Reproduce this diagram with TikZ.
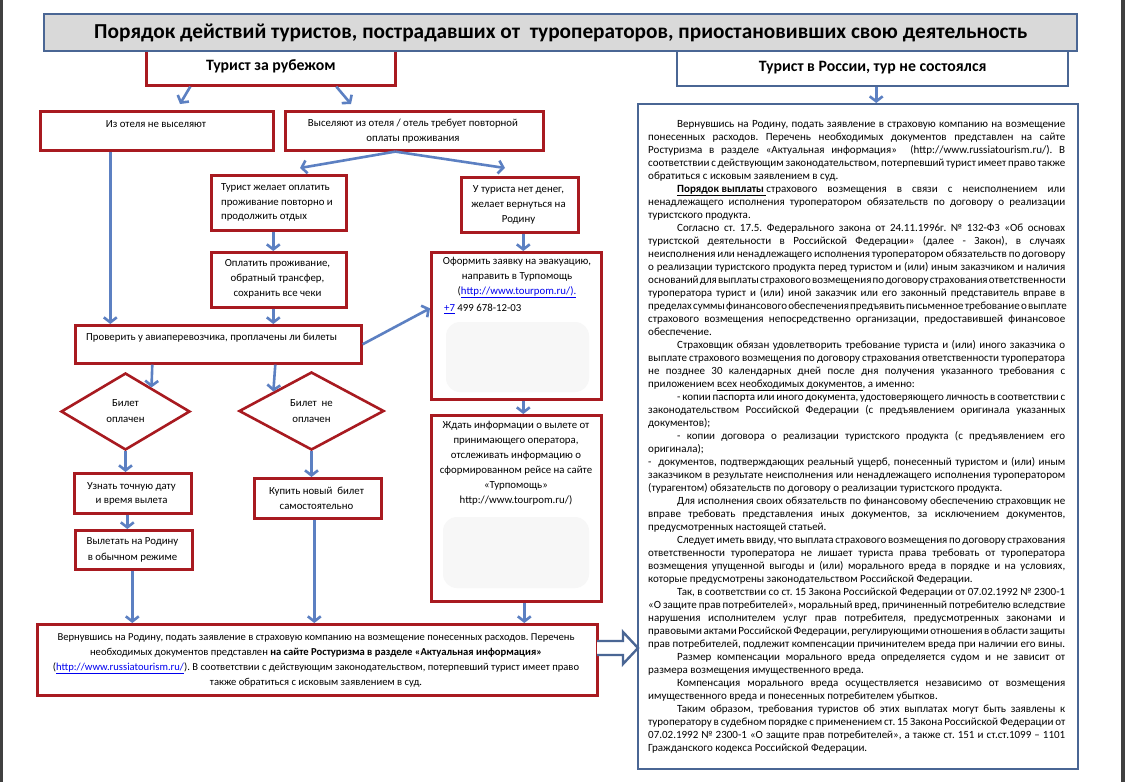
\documentclass[tikz,border=0pt]{standalone}
\usepackage{fontspec}
\setmainfont{Carlito}
\usetikzlibrary{arrows.meta,shapes.geometric,calc}
\definecolor{redc}{RGB}{168,26,32}
\definecolor{bluec}{RGB}{74,102,148}
\definecolor{arrc}{RGB}{92,128,194}
\definecolor{titlec}{RGB}{217,217,217}
\definecolor{linkc}{RGB}{0,0,238}
\definecolor{edgec}{RGB}{64,64,64}
\definecolor{blurc}{RGB}{247,247,247}
\newlength\RW
\setlength\RW{417pt}
\newcommand\JLine[1]{\hbox to \RW{#1}}
\newcommand\JInd[1]{\hbox to \RW{\hskip 29pt #1}}
\newcommand\LLine[1]{\hbox to \RW{#1\hfil}}
\frenchspacing
\begin{document}
\begin{tikzpicture}[x=1pt,y=-1pt,
  box/.style={draw=redc,line width=2.6pt,fill=white,inner sep=0pt,anchor=north west},
  bbox/.style={draw=bluec,line width=2.4pt,fill=white,inner sep=0pt,anchor=north west},
  diam/.style={diamond,aspect=1.67,draw=redc,line width=2.6pt,fill=white,inner sep=0pt,align=center,font=\fontsize{10.8}{16}\selectfont},
  txt/.style={inner sep=0pt,align=center,font=\fontsize{10.8}{15}\selectfont},
  arr/.style={draw=arrc,line width=2.6pt,-{Straight Barb[length=5pt,width=13pt]}},
  head/.style={font=\fontsize{15.8}{18}\selectfont\bfseries}
]
\useasboundingbox (0,0) rectangle (1125,782);
\fill[white] (0,0) rectangle (1125,782);
\fill[edgec] (0,0) rectangle (2.5,782);
\fill[edgec] (1121,0) rectangle (1125,782);

% headers
\node[box,minimum width=249,minimum height=38,head] (tzr) at (145,46) {Турист за рубежом};
\node[bbox,minimum width=391,minimum height=37,head] (trr) at (676,48) {Турист в России, тур не состоялся};
\node[bbox,fill=titlec,minimum width=1033,minimum height=37,font=\fontsize{21.3}{24}\selectfont\bfseries] (title) at (43,13) {Порядок действий туристов, пострадавших от~~туроператоров, приостановивших свою деятельность};

% boxes
\node[box,minimum width=233,minimum height=39] (hotel1) at (39,110) {};
\node[txt] (hotel1t) at (156,124) {Из отеля не выселяют};
\node[box,minimum width=258,minimum height=39] (hotel2) at (284,110) {};
\node[txt,font=\fontsize{10.8}{14.5}\selectfont] (hotel2t) at (413,131) {Выселяют из отеля / отель требует повторной\\оплаты проживания};

\node[box,minimum width=135,minimum height=55] (pay1) at (210,174) {};
\node[txt,align=left,anchor=west,font=\fontsize{10.8}{14.5}\selectfont] (pay1t) at (221,202.5) {Турист желает оплатить\\проживание повторно и\\продолжить отдых};
\node[box,minimum width=135,minimum height=55] (pay2) at (210,251) {};
\node[txt] (pay2t) at (277.5,279) {Оплатить проживание,\\обратный трансфер,\\сохранить все чеки};

\node[box,minimum width=117,minimum height=55] (nomoney) at (460,176) {};
\node[txt] (nomoneyt) at (518.5,205) {У туриста нет денег,\\желает вернуться на\\Родину};

\node[box,minimum width=286,minimum height=38] (check) at (74,324) {};
\node[txt,anchor=west] (checkt) at (86,338) {Проверить у авиаперевозчика, проплачены ли билеты};

\node[box,minimum width=170,minimum height=147] (form) at (430,251) {};
\fill[blurc,rounded corners=14pt] (446,322) rectangle (589,392);
\node[txt,anchor=north] (formt) at (517,257) {Оформить заявку на эвакуацию,\\направить в Турпомощь\\(\textcolor{linkc}{\underline{http://www.tourpom.ru/).}}};
\node[txt,anchor=west] (formp) at (444,309) {\textcolor{linkc}{\underline{+7}} 499 678-12-03};

\node[box,minimum width=170,minimum height=186] (wait) at (430,414) {};
\fill[blurc,rounded corners=14pt] (443,517) rectangle (589,588);
\node[txt,anchor=north] (waitt) at (516,421) {Ждать информации о вылете от\\принимающего оператора,\\отслеживать информацию о\\сформированном рейсе на сайте\\«Турпомощь»\\http://www.tourpom.ru/)};

\node[diam,minimum width=129,minimum height=77] (d1) at (125.5,411.5) {Билет\\оплачен};
\node[diam,minimum width=145,minimum height=78] (d2) at (311.5,411) {Билет~ не\\оплачен};

\node[box,minimum width=117,minimum height=40] (know) at (73,472) {};
\node[txt,font=\fontsize{10.8}{14}\selectfont] (knowt) at (131.5,494) {Узнать точную дату\\и время вылета};
\node[box,minimum width=117,minimum height=39] (fly) at (74,529) {};
\node[txt,font=\fontsize{10.8}{16}\selectfont] (flyt) at (132.5,550) {Вылетать на Родину\\в обычном режиме};
\node[box,minimum width=127,minimum height=40] (buy) at (253,477) {};
\node[txt] (buyt) at (316.5,498.5) {Купить новый~ билет\\самостоятельно};

\node[box,minimum width=560,minimum height=71] (final) at (36,623) {};
\node[txt,font=\fontsize{10.6}{15}\selectfont] (finalt) at (316,660) {Вернувшись на Родину, подать заявление в страховую компанию на возмещение понесенных расходов. Перечень\\необходимых документов представлен \textbf{на сайте Ростуризма в разделе «Актуальная информация»}\\(\textcolor{linkc}{\underline{http://www.russiatourism.ru/}}). В соответствии с действующим законодательством, потерпевший турист имеет право\\также обратиться с исковым заявлением в суд.};

% right text box
\node[bbox,minimum width=440,minimum height=665] (rbox) at (637,103) {};
\node[anchor=base west,inner sep=0pt] (rtext) at (648,127) {\vtop{\fontsize{11}{13}\selectfont\frenchspacing
\fontdimen4\font=0.5\fontdimen2\font
\JInd{Вернувшись на Родину, подать заявление в страховую компанию на возмещение}
\JLine{понесенных расходов. Перечень необходимых документов представлен на сайте}
\JLine{Ростуризма в разделе «Актуальная информация» ~(http://www.russiatourism.ru/). В}
\JLine{соответствии с действующим законодательством, потерпевший турист имеет право также}
\LLine{обратиться с исковым заявлением в суд.}
\JInd{\underline{\textbf{Порядок выплаты}\ }страхового возмещения в связи с неисполнением или}
\JLine{ненадлежащего исполнения туроператором обязательств по договору о реализации}
\LLine{туристского продукта.}
\JInd{Согласно ст. 17.5. Федерального закона от 24.11.1996г. № 132-ФЗ «Об основах}
\JLine{туристской деятельности в Российской Федерации» (далее - Закон), в случаях}
\JLine{неисполнения или ненадлежащего исполнения туроператором обязательств по договору}
\JLine{о реализации туристского продукта перед туристом и (или) иным заказчиком и наличия}
\JLine{оснований для выплаты страхового возмещения по договору страхования ответственности}
\JLine{туроператора турист и (или) иной заказчик или его законный представитель вправе в}
\JLine{пределах суммы финансового обеспечения предъявить письменное требование о выплате}
\JLine{страхового возмещения непосредственно организации, предоставившей финансовое}
\LLine{обеспечение.}
\JInd{Страховщик обязан удовлетворить требование туриста и (или) иного заказчика о}
\JLine{выплате страхового возмещения по договору страхования ответственности туроператора}
\JLine{не позднее 30 календарных дней после дня получения указанного требования с}
\LLine{приложением \underline{всех необходимых документов}, а именно:}
\JInd{- копии паспорта или иного документа, удостоверяющего личность в соответствии с}
\JLine{законодательством Российской Федерации (с предъявлением оригинала указанных}
\LLine{документов);}
\JInd{- копии договора о реализации туристского продукта (с предъявлением его}
\LLine{оригинала);}
\JLine{-~ документов, подтверждающих реальный ущерб, понесенный туристом и (или) иным}
\JLine{заказчиком в результате неисполнения или ненадлежащего исполнения туроператором}
\LLine{(турагентом) обязательств по договору о реализации туристского продукта.}
\JInd{Для исполнения своих обязательств по финансовому обеспечению страховщик не}
\JLine{вправе требовать представления иных документов, за исключением документов,}
\LLine{предусмотренных настоящей статьей.}
\JInd{Следует иметь ввиду, что выплата страхового возмещения по договору страхования}
\JLine{ответственности туроператора не лишает туриста права требовать от туроператора}
\JLine{возмещения упущенной выгоды и (или) морального вреда в порядке и на условиях,}
\LLine{которые предусмотрены законодательством Российской Федерации.}
\JInd{Так, в соответствии со ст. 15 Закона Российской Федерации от 07.02.1992 № 2300-1}
\JLine{«О защите прав потребителей», моральный вред, причиненный потребителю вследствие}
\JLine{нарушения исполнителем услуг прав потребителя, предусмотренных законами и}
\JLine{правовыми актами Российской Федерации, регулирующими отношения в области защиты}
\LLine{прав потребителей, подлежит компенсации причинителем вреда при наличии его вины.}
\JInd{Размер компенсации морального вреда определяется судом и не зависит от}
\LLine{размера возмещения имущественного вреда.}
\JInd{Компенсация морального вреда осуществляется независимо от возмещения}
\LLine{имущественного вреда и понесенных потребителем убытков.}
\JInd{Таким образом, требования туристов об этих выплатах могут быть заявлены к}
\JLine{туроператору в судебном порядке с применением ст. 15 Закона Российской Федерации от}
\JLine{07.02.1992 № 2300-1 «О защите прав потребителей», а также ст. 151 и ст.ст.1099 – 1101}
\LLine{Гражданского кодекса Российской Федерации.}
}};

% hollow block arrow
\draw[bluec,line width=2.4pt,fill=white,line join=miter] (597,641) -- (623,641) -- (623,632) -- (638,648) -- (623,664) -- (623,655) -- (597,655);

% connectors
\coordinate (a1) at (180,104);
\coordinate (a2) at (351,104);
\draw[arr] ([xshift=-80.5pt]tzr.south) -- (a1);
\draw[arr] ([xshift=65.5pt]tzr.south) -- (a2);
\draw[arr] ([xshift=3.5pt]trr.south) -- ([xshift=3.5pt]trr.south |- rbox.north);
\coordinate (v1) at (300,168);
\coordinate (v2) at (505,168);
\coordinate (split) at ([xshift=-19pt]hotel2.south);
\draw[arr] (split) -- (v1);
\draw[arr] (split) -- (v2);
\draw[arr] ([xshift=-46.5pt]hotel1.south) -- ([xshift=-46.5pt]hotel1.south |- check.north);
\draw[arr] ([xshift=-5.5pt]pay1.south) -- ([xshift=-5.5pt]pay2.north);
\draw[arr] ([xshift=-5.5pt]pay2.south) -- ([xshift=-5.5pt]pay2.south |- check.north);
\draw[arr] ([xshift=3.5pt]nomoney.south) -- ([xshift=3.5pt]nomoney.south |- form.north);
\draw[arr] (check.east) -- ([yshift=17.5pt]form.west);
\draw[arr] ([xshift=-66pt]check.south) -- ($(d1.north)!0.395!(d1.east)$);
\draw[arr] ([xshift=57pt]check.south) -- ($(d2.west)!0.483!(d2.north)$);
\draw[arr] (d1.south) -- (d1.south |- know.north);
\draw[arr] ([xshift=-5.5pt]know.south) -- ([xshift=-5.5pt]know.south |- fly.north);
\draw[arr] ([xshift=-1.5pt]fly.south) -- ([xshift=-1.5pt]fly.south |- final.north);
\draw[arr] (d2.south) -- (d2.south |- buy.north);
\draw[arr] ([xshift=-3.5pt]buy.south) -- ([xshift=-3.5pt]buy.south |- final.north);
\draw[arr] ([xshift=7pt]form.south) -- ([xshift=7pt]form.south |- wait.north);
\draw[arr] ([xshift=8pt]wait.south) -- ([xshift=8pt]wait.south |- final.north);
\end{tikzpicture}
\end{document}
